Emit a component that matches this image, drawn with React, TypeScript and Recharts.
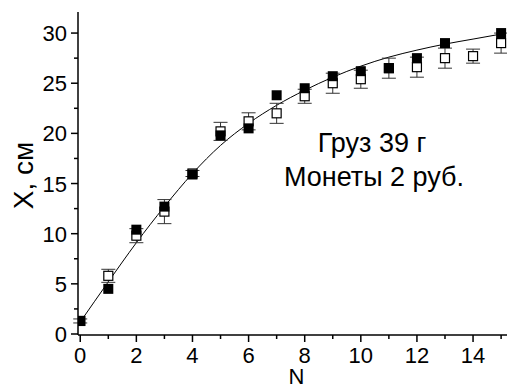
import {
  ComposedChart,
  Line,
  Scatter,
  ErrorBar,
  XAxis,
  YAxis,
  Label,
} from "recharts";

// N values and readings
const nValues = [0, 1, 2, 3, 4, 5, 6, 7, 8, 9, 10, 11, 12, 13, 14, 15];
const filledX = [1.3, 4.5, 10.4, 12.7, 15.9, 19.8, 20.5, 23.8, 24.5, 25.7, 26.2, 26.5, 27.5, 29.0, null, 30.0];
const openX = [1.3, 5.8, 9.8, 12.2, 16.0, 20.2, 21.2, 22.0, 23.7, 25.0, 25.4, 26.5, 26.6, 27.5, 27.7, 29.0];
const openErr = [0.2, 0.65, 0.7, 1.2, 0.3, 0.9, 0.85, 1.0, 0.7, 1.0, 0.9, 1.0, 1.0, 1.0, 0.7, 1.0];
const fitX = [1.2, 5.2, 9.1, 12.7, 16.0, 18.8, 21.0, 22.8, 24.3, 25.6, 26.7, 27.6, 28.3, 28.9, 29.4, 29.9];

const xTicks = nValues;
const yTicks = [0, 2.5, 5, 7.5, 10, 12.5, 15, 17.5, 20, 22.5, 25, 27.5, 30];

const fitData = nValues.map((n, i) => ({ n, fit: fitX[i] }));
const filledData = nValues
  .map((n, i) => ({ n, y: filledX[i] }))
  .filter((d) => d.y !== null);
const openData = nValues.map((n, i) => ({ n, y: openX[i], err: openErr[i] }));

const FONT = "Arial, 'Liberation Sans', sans-serif";

const XTick = (props: any) => {
  const { x, y, payload } = props;
  const major = payload.value % 2 === 0;
  return (
    <g>
      <line x1={x} y1={y} x2={x} y2={y + (major ? 7 : 4)} stroke="#000" strokeWidth={1.5} />
      {major && (
        <text x={x} y={y + 28} textAnchor="middle" fontSize={22} fontFamily={FONT} fill="#000">
          {payload.value}
        </text>
      )}
    </g>
  );
};

const TopTick = (props: any) => {
  const { x, y } = props;
  return <line x1={x} y1={y} x2={x} y2={y + 3} stroke="#000" strokeWidth={1} />;
};

const YTick = (props: any) => {
  const { x, y, payload } = props;
  const major = payload.value % 5 === 0;
  return (
    <g>
      <line x1={x} y1={y} x2={x - (major ? 7 : 4)} y2={y} stroke="#000" strokeWidth={1.5} />
      {major && (
        <text x={x - 11} y={y + 8} textAnchor="end" fontSize={22} fontFamily={FONT} fill="#000">
          {payload.value}
        </text>
      )}
    </g>
  );
};

const FilledSquare = (p: any) => <rect x={p.cx - 5} y={p.cy - 5} width={10} height={10} fill="#000" />;
const OpenSquare = (p: any) => (
  <rect x={p.cx - 4.5} y={p.cy - 4.5} width={9} height={9} fill="#fff" stroke="#000" strokeWidth={1.2} />
);

export default function App() {
  return (
    <div style={{ position: "absolute", left: 0, top: 0, width: 507, height: 390, background: "#fff" }}>
      <ComposedChart
        width={507}
        height={390}
        data={fitData}
        margin={{ top: 12, right: 0, bottom: 0, left: 0 }}
      >
        <XAxis
          dataKey="n"
          type="number"
          domain={[-0.08, 15.21]}
          allowDataOverflow
          ticks={xTicks}
          interval={0}
          height={55}
          tickSize={0}
          tickMargin={0}
          tickLine={false}
          tick={<XTick />}
          axisLine={{ stroke: "#000", strokeWidth: 1.5 }}
        >
          <Label
            content={({ viewBox }: any) => (
              <text
                x={viewBox.x + viewBox.width / 2 + 4}
                y={viewBox.y + viewBox.height - 6}
                textAnchor="middle"
                fontSize={22}
                fontFamily={FONT}
                fill="#000"
              >
                N
              </text>
            )}
          />
        </XAxis>
        <XAxis
          xAxisId="top"
          orientation="top"
          dataKey="n"
          type="number"
          domain={[-0.08, 15.21]}
          allowDataOverflow
          ticks={xTicks}
          interval={0}
          height={0}
          tickSize={0}
          tickMargin={0}
          tickLine={false}
          tick={<TopTick />}
          axisLine={{ stroke: "#000", strokeWidth: 1.5 }}
        />
        <YAxis
          type="number"
          domain={[-0.1, 32.1]}
          allowDataOverflow
          ticks={yTicks}
          interval={0}
          width={78}
          tickSize={0}
          tickMargin={0}
          tickLine={false}
          tick={<YTick />}
          axisLine={{ stroke: "#000", strokeWidth: 1.5 }}
        >
          <Label
            content={({ viewBox }: any) => (
              <text
                transform={`translate(${viewBox.x + 33}, ${viewBox.y + viewBox.height / 2 + 2}) rotate(-90)`}
                textAnchor="middle"
                fontSize={28}
                fontFamily={FONT}
                fill="#000"
              >
                X, см
              </text>
            )}
          />
        </YAxis>
        <Line
          dataKey="fit"
          type="monotone"
          stroke="#000"
          strokeWidth={1}
          dot={false}
          isAnimationActive={false}
        />
        <Scatter data={openData} dataKey="y" shape={OpenSquare} isAnimationActive={false}>
          <ErrorBar dataKey="err" direction="y" width={7} stroke="#333" strokeWidth={1} />
        </Scatter>
        <Scatter data={filledData} dataKey="y" shape={FilledSquare} isAnimationActive={false} />
      </ComposedChart>
      <svg
        width={507}
        height={390}
        style={{ position: "absolute", left: 0, top: 0, pointerEvents: "none" }}
      >
        <text x={372} y={152} textAnchor="middle" fontSize={27} fontFamily={FONT} fill="#000">
          Груз 39 г
        </text>
        <text x={374} y={186} textAnchor="middle" fontSize={27} fontFamily={FONT} fill="#000">
          Монеты 2 руб.
        </text>
      </svg>
    </div>
  );
}
